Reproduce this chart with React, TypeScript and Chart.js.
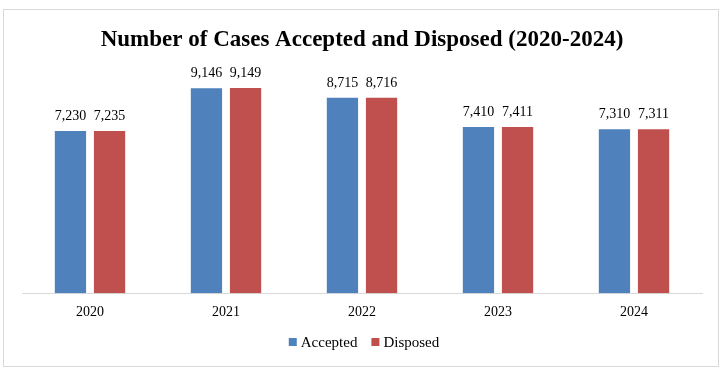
import React, { useEffect, useRef } from "react";
import { Chart, registerables } from "chart.js";

Chart.register(...registerables);

const categories = ["2020", "2021", "2022", "2023", "2024"];
const accepted = [7230, 9146, 8715, 7410, 7310];
const disposed = [7235, 9149, 8716, 7411, 7311];
const seriesNames = ["Accepted", "Disposed"];
const titleText = "Number of Cases Accepted and Disposed (2020-2024)";

const SERIF = "'Times New Roman', 'Liberation Serif', serif";
const BLUE = "#4F81BD";
const RED = "#C0504D";

const decorPlugin = {
  id: "decor",
  beforeDraw(chart: any) {
    const ctx = chart.ctx;
    ctx.save();
    ctx.fillStyle = "#ffffff";
    ctx.fillRect(0, 0, chart.width, chart.height);
    ctx.strokeStyle = "#D9D9D9";
    ctx.lineWidth = 1;
    ctx.strokeRect(3.5, 9.5, 715, 357);
    ctx.restore();
  },
  afterDraw(chart: any) {
    const ctx = chart.ctx;
    ctx.save();
    // title
    ctx.fillStyle = "#000";
    ctx.font = `bold 23px ${SERIF}`;
    ctx.textAlign = "center";
    ctx.textBaseline = "middle";
    ctx.fillText(titleText, 362, 40);
    // data labels
    ctx.font = `14px ${SERIF}`;
    ctx.textBaseline = "alphabetic";
    chart.data.datasets.forEach((ds: any, i: number) => {
      const meta = chart.getDatasetMeta(i);
      meta.data.forEach((bar: any, j: number) => {
        const v = ds.data[j];
        ctx.fillText(v.toLocaleString("en-US"), bar.x, bar.y - 11);
      });
    });
    // legend
    ctx.font = `15px ${SERIF}`;
    ctx.textAlign = "left";
    ctx.textBaseline = "middle";
    const colors = [BLUE, RED];
    const box = 8;
    const gap = 4;
    const itemGap = 14;
    const widths = seriesNames.map((n) => box + gap + ctx.measureText(n).width);
    const total = widths.reduce((a, b) => a + b, 0) + itemGap * (widths.length - 1);
    let x = 364 - total / 2;
    const y = 342;
    seriesNames.forEach((n, i) => {
      ctx.fillStyle = colors[i];
      ctx.fillRect(x, y - box / 2, box, box);
      ctx.fillStyle = "#000";
      ctx.fillText(n, x + box + gap, y + 1);
      x += widths[i] + itemGap;
    });
    ctx.restore();
  },
};

export default function App() {
  const ref = useRef<HTMLCanvasElement | null>(null);
  useEffect(() => {
    document.body.style.margin = "0";
    if (!ref.current) return;
    const chart = new Chart(ref.current, {
      type: "bar",
      data: {
        labels: categories,
        datasets: [
          {
            label: seriesNames[0],
            data: accepted,
            backgroundColor: BLUE,
            categoryPercentage: 0.575,
            barPercentage: 0.8,
          },
          {
            label: seriesNames[1],
            data: disposed,
            backgroundColor: RED,
            categoryPercentage: 0.575,
            barPercentage: 0.8,
          },
        ],
      },
      options: {
        responsive: false,
        animation: false,
        devicePixelRatio: 1,
        layout: { padding: { top: 69, left: 22, right: 21, bottom: 41 } },
        plugins: {
          legend: { display: false },
          title: { display: false },
          tooltip: { enabled: false },
        },
        scales: {
          y: { display: false, min: 0, max: 10000 },
          x: {
            grid: { display: false, drawTicks: false },
            border: { display: true, color: "#D9D9D9", width: 1 },
            ticks: {
              padding: 11,
              color: "#000",
              font: { family: SERIF, size: 14 },
            },
          },
        },
      },
      plugins: [decorPlugin],
    });
    return () => chart.destroy();
  }, []);
  return (
    <div style={{ position: "absolute", left: 0, top: 0, width: 723, height: 373 }}>
      <canvas ref={ref} width={723} height={373} />
    </div>
  );
}
